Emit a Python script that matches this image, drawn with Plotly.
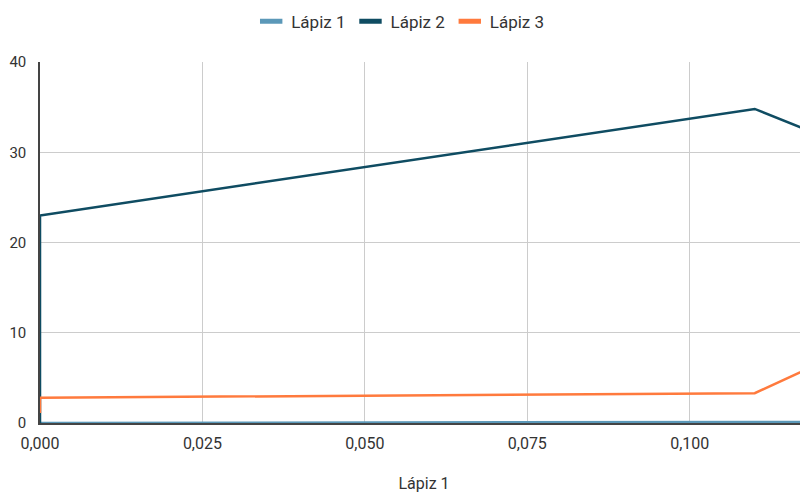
import plotly.graph_objects as go

x_vals = [0, 0, 0.11, 0.12]
lapiz1 = [0, 0, 0.11, 0.12]
lapiz2 = [0, 23.0, 34.8, 31.9]
lapiz3 = [1.1, 2.8, 3.3, 6.6]
names = ["Lápiz 1", "Lápiz 2", "Lápiz 3"]
colors = ["#5b98b8", "#0f4c62", "#ff7a3d"]

fig = go.Figure()
for name, ys, c in zip(names, [lapiz1, lapiz2, lapiz3], colors):
    fig.add_trace(go.Scatter(x=x_vals, y=ys, name=name, mode="lines",
                             line=dict(color=c, width=2.5), showlegend=False))
# legend entries with short thick swatches
for name, c in zip(names, colors):
    fig.add_trace(go.Scatter(x=[None], y=[None], name=name, mode="markers",
                             marker=dict(symbol="line-ew", size=16,
                                         line=dict(color=c, width=5))))

# page body has an 8px margin: compensate so the plot area sits where the reference's does
fig.update_layout(
    width=800, height=489,
    margin=dict(l=32, r=0, t=54, b=74, autoexpand=False),
    paper_bgcolor="white", plot_bgcolor="white",
    separators=",.",
    font=dict(family="Roboto, Arial, sans-serif", size=16, color="#333"),
    legend=dict(orientation="h", x=0.469, xanchor="center", y=0.972, yanchor="middle",
                yref="container", font=dict(size=17, color="#333"),
                itemwidth=30),
    showlegend=True,
)
fig.update_xaxes(range=[0, 0.1182], tickvals=[0, 0.025, 0.05, 0.075, 0.1],
                 tickformat=".3f", showgrid=True, gridcolor="#cccccc", gridwidth=1,
                 showline=True, linecolor="#444", linewidth=1.5, zeroline=False,
                 ticks="", ticklabelstandoff=5, automargin=False,
                 tickfont=dict(size=16, color="#333"),
                 title=dict(text="Lápiz 1", standoff=26, font=dict(size=16, color="#333")))
fig.update_yaxes(range=[0, 40], tickvals=[0, 10, 20, 30, 40],
                 showgrid=True, gridcolor="#cccccc", gridwidth=1,
                 showline=True, linecolor="#444", linewidth=1.5, zeroline=False,
                 ticks="", ticklabelstandoff=9, automargin=False,
                 tickfont=dict(size=15, color="#333"))

fig.write_html("out.html")
